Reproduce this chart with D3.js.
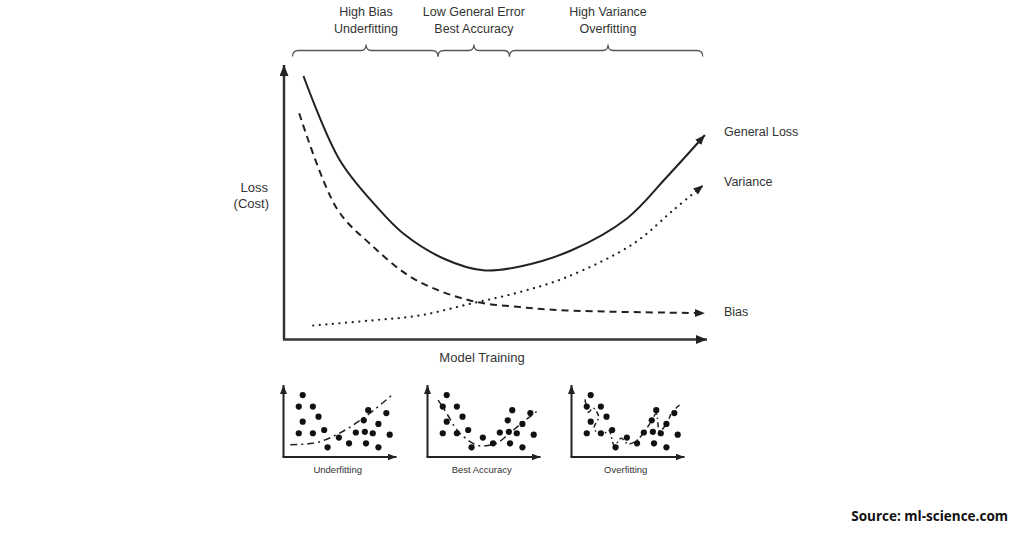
<!DOCTYPE html>
<html><head>
<meta charset="utf-8">
<title>Bias variance tradeoff</title>
<script src="https://d3js.org/d3.v7.min.js"></script>
<style>
  body { margin: 0; background: #fff; }
  svg { display: block; font-family: "Liberation Sans", Arial, sans-serif; }
  .lbl { fill: #333; font-size: 12.5px; }
  .small { fill: #333; font-size: 9.5px; }
  .src { fill: #111; font-size: 13.5px; font-weight: 700; font-family: "Open Sans", sans-serif; }
</style>
</head>
<body>
<svg id="chart" width="1024" height="538"></svg>
<script>

// --- data (x = model training 0..100, y = loss 0..100) ---
const lossX     = [4.6, 13.2, 22.3, 28.2, 37.7, 47.1, 55.8, 68, 81, 90.5, 99.5];
const lossY     = [96, 65.3, 47.7, 38.6, 29.5, 25.2, 26.6, 32.5, 44, 59.2, 74.5];
const biasX     = [3.6, 12.5, 20.3, 30.6, 44, 55.8, 66.8, 99.5];
const biasY     = [82.4, 47.7, 34.9, 22.2, 14.2, 11.8, 10.6, 9.6];
const varianceX = [6.9, 20.3, 32.2, 44, 55.8, 66.8, 82.6, 92, 99.1];
const varianceY = [5.1, 6.9, 8.8, 13, 17.3, 22.7, 34.9, 47.1, 56.2];

const seriesNames = ["General Loss", "Variance", "Bias"];

// regions along the top (start, tip, end in model training units)
const regionLines = [["High Bias", "Underfitting"], ["Low General Error", "Best Accuracy"], ["High Variance", "Overfitting"]];
const regionStart = [2, 36.4, 53.3];
const regionTip   = [19.4, 44.9, 76.6];
const regionEnd   = [36.4, 53.3, 99];

// small scatter panels (local 0..100 units)
const panelNames = ["Underfitting", "Best Accuracy", "Overfitting"];
const dotX = [17, 13.5, 26, 17, 31, 13.5, 26, 36, 39, 49, 58, 64, 75, 71, 72, 73, 79, 84, 91, 84, 94];
const dotY = [86, 70, 70, 49, 56, 33, 33, 37.5, 13.5, 27, 19, 34, 65, 51, 35, 19, 33, 46, 61, 13.5, 31];
const underFitX = [6, 26, 47, 74, 96];
const underFitY = [17, 19, 31, 58, 86];
const bestFitX = [9.4, 18, 24, 35.7, 47.8, 59.6, 71, 83.2, 96.5];
const bestFitY = [79, 58, 42, 23.6, 15.3, 18, 30.6, 47, 63];
const overFitX = [12, 15, 19, 24, 20, 27, 33, 38, 44, 50, 57, 64, 70, 75, 78, 84, 89, 97];
const overFitY = [80, 62, 68, 56, 40, 30, 37, 16, 26, 18, 22, 34, 48, 60, 36, 46, 62, 74];

const svg = d3.select("#chart");
const ink = "#222";

// arrowhead markers
const defs = svg.append("defs");
function marker(id, w, h) {
  defs.append("marker")
    .attr("id", id)
    .attr("viewBox", `0 0 ${w} ${h}`)
    .attr("refX", w).attr("refY", h / 2)
    .attr("markerWidth", w).attr("markerHeight", h)
    .attr("markerUnits", "userSpaceOnUse")
    .attr("orient", "auto")
    .append("path")
    .attr("d", `M0,0 L${w},${h/2} L0,${h} Z`)
    .attr("fill", ink);
}
marker("arrowBig", 11, 9);
marker("arrowMid", 10, 8);
marker("arrowSmall", 9, 7);

// main scales
const x = d3.scaleLinear().domain([0, 100]).range([284, 707]);
const y = d3.scaleLinear().domain([0, 100]).range([339.5, 65]);

// axes
const axes = svg.append("g").attr("stroke", "#333").attr("stroke-width", 2.5);
axes.append("line")
  .attr("x1", x(0)).attr("y1", y(0)).attr("x2", x(0)).attr("y2", y(100))
  .attr("marker-end", "url(#arrowBig)");
axes.append("line")
  .attr("x1", x(0) - 1).attr("y1", y(0)).attr("x2", x(100)).attr("y2", y(0))
  .attr("marker-end", "url(#arrowBig)");

svg.append("text").attr("class", "lbl").attr("x", 268).attr("y", 192)
  .attr("text-anchor", "end").style("font-size", "13px").text("Loss");
svg.append("text").attr("class", "lbl").attr("x", 269).attr("y", 208)
  .attr("text-anchor", "end").style("font-size", "13px").text("(Cost)");
svg.append("text").attr("class", "lbl").attr("x", 482).attr("y", 362)
  .attr("text-anchor", "middle").style("font-size", "13px").text("Model Training");

// curves
const line = d3.line().x(d => x(d[0])).y(d => y(d[1])).curve(d3.curveCatmullRom.alpha(0.5));
const curves = svg.append("g").attr("fill", "none").attr("stroke", ink).attr("stroke-width", 2);

curves.append("path")
  .datum(d3.zip(lossX, lossY))
  .attr("d", line)
  .attr("marker-end", "url(#arrowMid)");
curves.append("path")
  .datum(d3.zip(biasX, biasY))
  .attr("d", line)
  .attr("stroke-dasharray", "7,5")
  .attr("marker-end", "url(#arrowMid)");
curves.append("path")
  .datum(d3.zip(varianceX, varianceY))
  .attr("d", line)
  .attr("stroke-dasharray", "0.1,6.5")
  .attr("stroke-linecap", "round")
  .attr("stroke-width", 2.2)
  .attr("marker-end", "url(#arrowMid)");

// series labels at the end of each curve
const ends = [lossY[lossY.length - 1], varianceY[varianceY.length - 1], biasY[biasY.length - 1]];
svg.append("g").selectAll("text")
  .data(seriesNames)
  .join("text")
  .attr("class", "lbl")
  .attr("x", 724)
  .attr("y", (d, i) => y(ends[i]) - (i === 0 ? -1.5 : (i === 1 ? -0.5 : -3)))
  .text(d => d);

// top region labels with braces
const braceY = 50.5;
const regions = svg.append("g");
regionLines.forEach((lines, i) => {
  const cx = x(regionTip[i]);
  lines.forEach((t, j) => {
    regions.append("text").attr("class", "lbl")
      .attr("x", cx).attr("y", 16 + j * 17)
      .attr("text-anchor", "middle")
      .text(t);
  });
  const x0 = x(regionStart[i]), x1 = x(regionEnd[i]);
  const p = d3.path();
  p.moveTo(x0, braceY + 6);
  p.quadraticCurveTo(x0, braceY, x0 + 6, braceY);
  p.lineTo(cx - 5, braceY);
  p.quadraticCurveTo(cx, braceY, cx, braceY - 6);
  p.quadraticCurveTo(cx, braceY, cx + 5, braceY);
  p.lineTo(x1 - 6, braceY);
  p.quadraticCurveTo(x1, braceY, x1, braceY + 6);
  regions.append("path").attr("d", p.toString())
    .attr("fill", "none").attr("stroke", "#555").attr("stroke-width", 1.3);
});

// small panels
const fits = [
  {xs: underFitX, ys: underFitY, dash: "7,4,2,4"},
  {xs: bestFitX, ys: bestFitY, dash: "7,4,2,4"},
  {xs: overFitX, ys: overFitY, dash: "5,3,1.5,3"}
];
panelNames.forEach((name, i) => {
  const left = 283.5 + i * 144;
  const px = d3.scaleLinear().domain([0, 100]).range([left, left + 113]);
  const py = d3.scaleLinear().domain([0, 100]).range([457, 385]);
  const g = svg.append("g");

  g.append("line").attr("x1", px(0)).attr("y1", py(0)).attr("x2", px(0)).attr("y2", py(100))
    .attr("stroke", ink).attr("stroke-width", 2).attr("marker-end", "url(#arrowSmall)");
  g.append("line").attr("x1", px(0) - 1).attr("y1", py(0)).attr("x2", px(100)).attr("y2", py(0))
    .attr("stroke", ink).attr("stroke-width", 2).attr("marker-end", "url(#arrowSmall)");

  const fl = d3.line().x(d => px(d[0])).y(d => py(d[1]))
    .curve(i === 2 ? d3.curveCatmullRom : d3.curveMonotoneX);
  g.append("path")
    .datum(d3.zip(fits[i].xs, fits[i].ys))
    .attr("d", fl)
    .attr("fill", "none").attr("stroke", ink).attr("stroke-width", 1.5)
    .attr("stroke-dasharray", fits[i].dash);

  g.selectAll("circle")
    .data(d3.zip(dotX, dotY))
    .join("circle")
    .attr("cx", d => px(d[0]))
    .attr("cy", d => py(d[1]))
    .attr("r", 3.1)
    .attr("fill", "#111");

  g.append("text").attr("class", "small")
    .attr("x", px(48)).attr("y", 473)
    .attr("text-anchor", "middle")
    .text(name);
});

// source
svg.append("text").attr("class", "src")
  .attr("x", 1008).attr("y", 521)
  .attr("text-anchor", "end")
  .text("Source: ml-science.com");

</script>
</body>
</html>
